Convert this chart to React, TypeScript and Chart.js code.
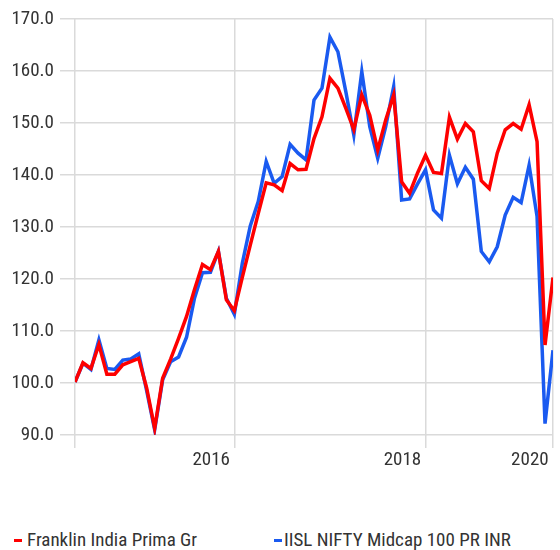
import React, { useEffect, useRef } from "react";
import { Chart, registerables } from "chart.js";

Chart.register(...registerables);

const fundName = "Franklin India Prima Gr";
const indexName = "IISL NIFTY Midcap 100 PR INR";

const fundValues = [
  100.2, 103.9, 102.8, 107.4, 101.7, 101.7, 103.5, 104.1, 104.75, 99.0,
  91.3, 100.9, 104.6, 108.6, 112.8, 118.0, 122.8, 121.8, 125.3, 116.0,
  113.9, 120.3, 126.5, 132.6, 138.5, 138.1, 137.0, 142.2, 141.0, 141.1,
  147.0, 151.2, 158.6, 156.7, 152.8, 148.7, 155.4, 151.5, 144.8, 150.6,
  155.4, 138.7, 136.5, 140.4, 143.8, 140.5, 140.3, 151.1, 146.9, 149.9,
  148.3, 138.9, 137.4, 144.2, 148.7, 149.9, 148.8, 153.5, 146.4, 107.3,
  120.3,
];

const indexValues = [
  100.2, 103.8, 102.6, 108.3, 102.8, 102.6, 104.4, 104.6, 105.6, 98.5,
  91.0, 100.6, 104.1, 105.0, 108.8, 116.3, 121.2, 121.3, 125.3, 116.3,
  113.2, 123.0, 130.2, 134.9, 142.6, 138.4, 139.7, 145.9, 144.2, 142.9,
  154.4, 156.7, 166.5, 163.7, 156.0, 147.7, 159.9, 149.3, 143.2, 149.3,
  157.0, 135.2, 135.4, 138.3, 141.0, 133.3, 131.7, 143.8, 138.3, 141.5,
  139.2, 125.3, 123.3, 126.2, 132.3, 135.7, 134.7, 141.9, 132.0, 92.2,
  106.3,
];

// x tick positions (month index) and their labels
const xTickPositions = [0, 20, 44, 60];
const xTickLabels = ["", "2016 ", "2018 ", "2020 "];

const yMin = 90;
const yMax = 170;
const yStep = 10;

const FONT = '"Roboto Condensed", "Arial Narrow", "Liberation Sans Narrow", "DejaVu Sans Condensed", sans-serif';
const FONT_SIZE = 19;
const RED = "#fe0000";
const BLUE = "#1a5af0";
const GRID = "#dadada";
const TEXT = "#333333";

export default function App() {
  const ref = useRef<HTMLCanvasElement | null>(null);

  useEffect(() => {
    const canvas = ref.current;
    if (!canvas) return;
    const fundData = fundValues.map((v, i) => ({ x: i, y: v }));
    const indexData = indexValues.map((v, i) => ({ x: i, y: v }));
    const chart = new Chart(canvas, {
      type: "line",
      data: {
        datasets: [
          {
            label: fundName,
            data: fundData,
            borderColor: RED,
            backgroundColor: RED,
            borderWidth: 3.5,
            pointRadius: 0,
            tension: 0,
          },
          {
            label: indexName,
            data: indexData,
            borderColor: BLUE,
            backgroundColor: BLUE,
            borderWidth: 3.5,
            pointRadius: 0,
            tension: 0,
          },
        ],
      },
      options: {
        animation: false,
        responsive: false,
        layout: { padding: { top: 19, right: 7, left: 0, bottom: 0 } },
        plugins: {
          legend: { display: false },
          tooltip: { enabled: false },
        },
        scales: {
          x: {
            type: "linear",
            min: 0,
            max: fundValues.length - 1,
            afterBuildTicks: (axis: any) => {
              axis.ticks = xTickPositions.map((v) => ({ value: v }));
            },
            afterFit: (axis: any) => {
              axis.height = 45;
            },
            border: { display: false },
            grid: {
              color: GRID,
              lineWidth: 1.5,
              tickLength: 13,
              drawTicks: true,
            },
            ticks: {
              autoSkip: false,
              maxRotation: 0,
              minRotation: 0,
              align: "end",
              padding: 1,
              color: TEXT,
              font: { family: FONT, size: FONT_SIZE },
              callback: (value: any) => {
                const idx = xTickPositions.indexOf(Number(value));
                return idx >= 0 ? xTickLabels[idx] : "";
              },
            },
          },
          y: {
            min: yMin,
            max: yMax,
            afterFit: (axis: any) => {
              axis.width = 75;
            },
            border: { display: false },
            grid: {
              color: GRID,
              lineWidth: 1.5,
              tickLength: 15,
              drawTicks: true,
            },
            ticks: {
              stepSize: yStep,
              padding: 6,
              color: TEXT,
              font: { family: FONT, size: FONT_SIZE },
              callback: (value: any) => Number(value).toFixed(1),
            },
          },
        },
      },
    });
    return () => chart.destroy();
  }, []);

  const legendText: React.CSSProperties = {
    fontFamily: FONT,
    fontSize: FONT_SIZE,
    lineHeight: "20px",
    color: TEXT,
    whiteSpace: "nowrap",
  };

  return (
    <div style={{ position: "absolute", left: 0, top: 0, width: 560, height: 550, background: "#fff" }}>
      <canvas ref={ref} width={560} height={480} style={{ display: "block" }} />
      <div style={{ position: "absolute", left: 14, top: 530, ...legendText, display: "flex", alignItems: "center" }}>
        <span style={{ display: "inline-block", width: 8, height: 3, background: RED, marginRight: 5 }} />
        <span>{fundName}</span>
      </div>
      <div style={{ position: "absolute", left: 274, top: 530, ...legendText, display: "flex", alignItems: "center" }}>
        <span style={{ display: "inline-block", width: 8, height: 3, background: BLUE, marginRight: 2 }} />
        <span>{indexName}</span>
      </div>
    </div>
  );
}
